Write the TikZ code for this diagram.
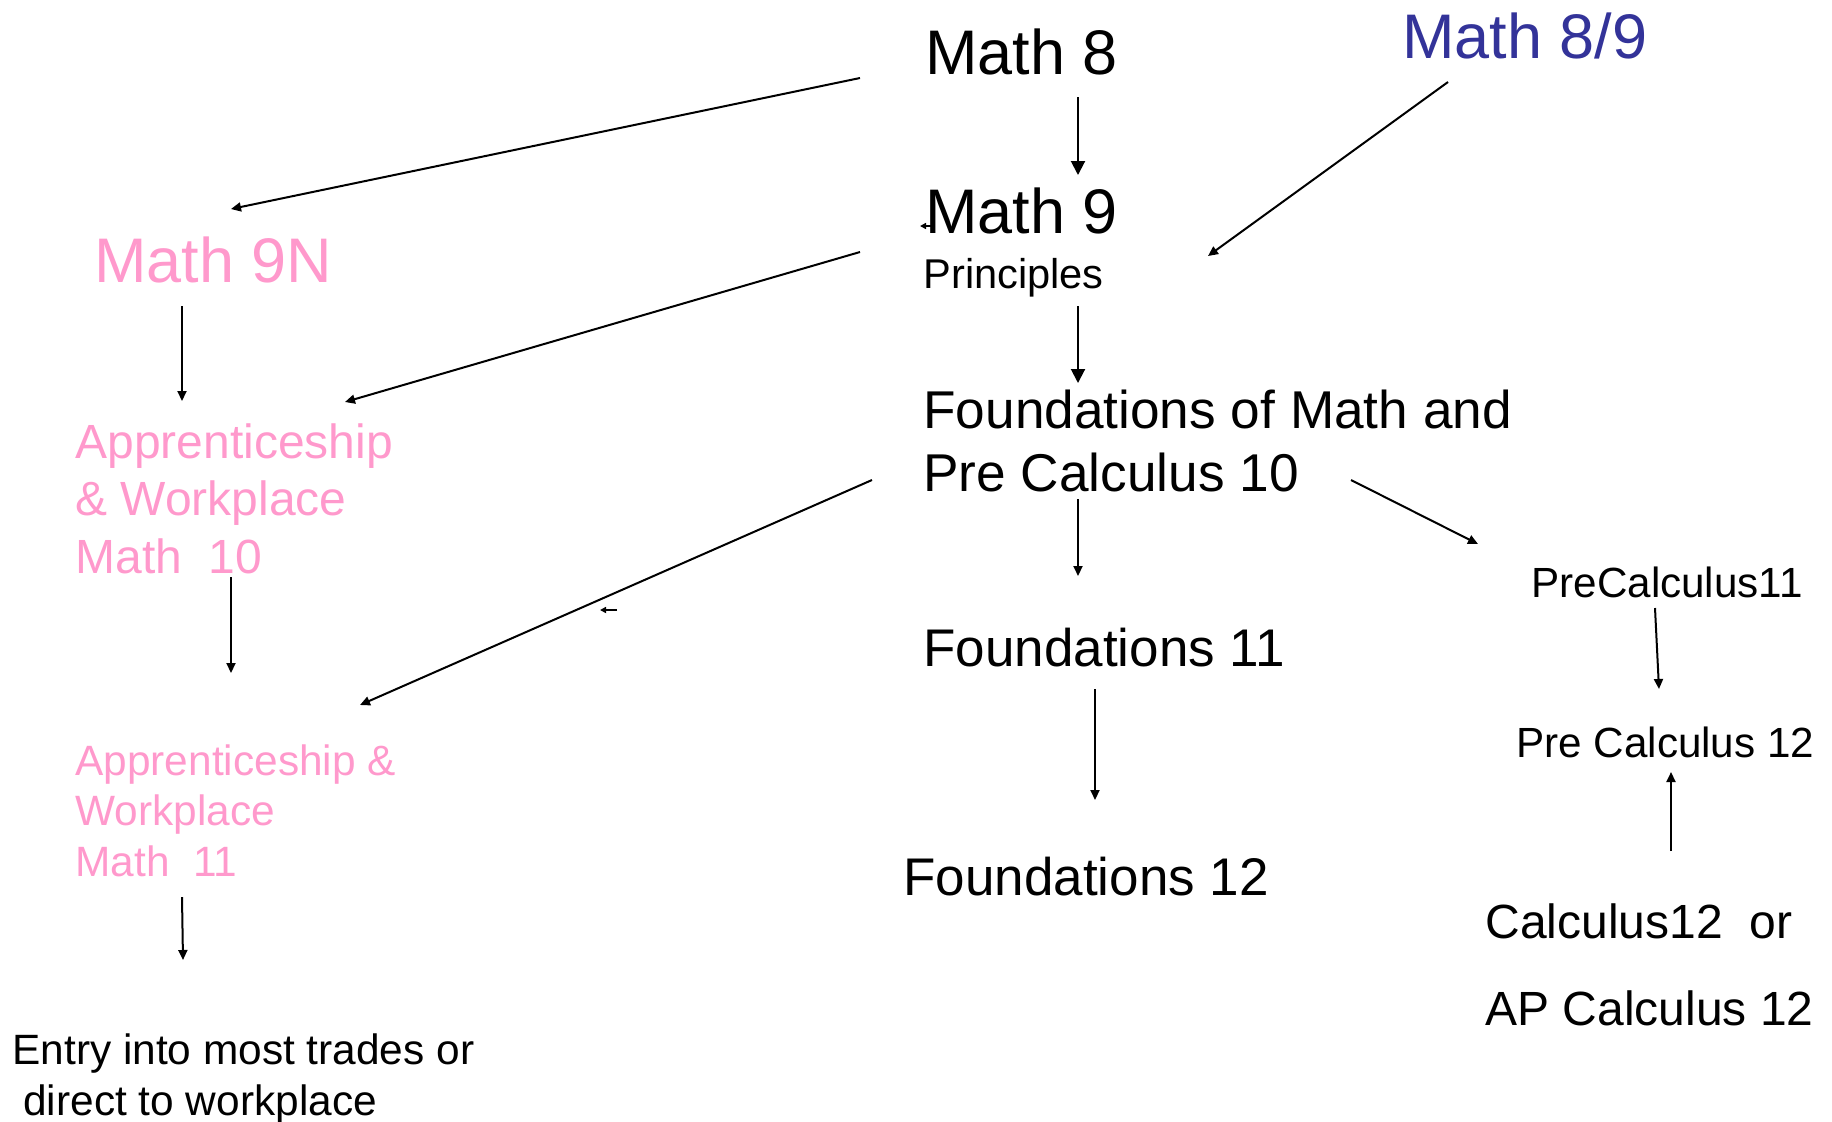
\documentclass[tikz,border=0pt]{standalone}
\usepackage{fontspec}
\setmainfont{Liberation Sans}
\usetikzlibrary{arrows.meta}
\definecolor{trackpink}{RGB}{255,153,204}
\definecolor{trackblue}{RGB}{51,51,153}
\newcommand{\fs}[2]{\fontsize{#1}{#2}\selectfont}
\newcommand{\courselines}[1]{\begin{tabular}[t]{@{}l@{}}#1\end{tabular}}
\tikzset{
  course/.style={inner sep=0pt, anchor=base west, text=black},
  pinkcourse/.style={course, text=trackpink},
  arrow/.style={-{Triangle[length=5pt, width=4.5pt]}, line width=1pt, color=black},
  bigarrow/.style={-{Triangle[length=7pt, width=7pt]}, line width=1pt, color=black},
  tinyarrow/.style={-{Triangle[length=3pt, width=3pt]}, line width=0.8pt, color=black}
}

\begin{document}
\begin{tikzpicture}[x=0.5pt, y=-0.5pt]
  \useasboundingbox (0,0) rectangle (1832,1121);

  % -- Grade 8 / 9 -------------------------------------------------
  \node[course, font=\fs{31.5}{38}] (m8) at (925,74) {Math 8};
  \node[course, font=\fs{31.5}{38}, text=trackblue] (m89) at (1402,58) {Math 8/9};
  \node[course, font=\fs{31.5}{38}] (m9) at (925,233) {Math 9};
  \node[course, font=\fs{20.8}{25}] (princ) at (923,288) {Principles};
  \node[pinkcourse, font=\fs{31.5}{38}] (m9n) at (94,282) {Math 9N};

  % -- Grade 10 ----------------------------------------------------
  \node[course, font=\fs{26.6}{31.5}] (fmp10) at (923,428)
    {\courselines{Foundations of Math and\\Pre Calculus 10}};
  \node[pinkcourse, font=\fs{24}{28.75}] (aw10) at (75,458)
    {\courselines{Apprenticeship\\\& Workplace\\Math\ \ 10}};

  % -- Grade 11 ----------------------------------------------------
  \node[course, font=\fs{26.5}{32}] (f11) at (923,666) {Foundations 11};
  \node[course, font=\fs{21.1}{25}] (pc11) at (1531,597) {PreCalculus11};
  \node[pinkcourse, font=\fs{21.2}{25.3}] (aw11) at (75,775)
    {\courselines{Apprenticeship \&\\Workplace\\Math\ \ 11}};

  % -- Grade 12 ----------------------------------------------------
  \node[course, font=\fs{26.5}{32}] (f12) at (903,895) {Foundations 12};
  \node[course, font=\fs{21.1}{25}] (pc12) at (1516,757) {Pre Calculus 12};
  \node[course, font=\fs{24}{43.5}] (calc) at (1485,938)
    {\courselines{Calculus12\ \ or\\AP Calculus 12}};
  \node[course, font=\fs{21.2}{25.5}] (entry) at (12,1064)
    {\courselines{Entry into most trades or\\\hspace*{0.26em}direct to workplace}};

  % -- stray tips --------------------------------------------------
  \coordinate (stray9) at (934,226);
  \coordinate (stray10) at (617,610);

  % -- Connections -------------------------------------------------
  \draw[arrow] ([shift={(-65,4)}]m8.base west) -- ([shift={(137,-73)}]m9n.base west);
  \draw[bigarrow] ([shift={(153,23)}]m8.base west) -- ([shift={(153,-58)}]m9.base west);
  \draw[arrow] ([shift={(46,24)}]m89.base west) -- ([shift={(283,23)}]m9.base west);
  \draw[arrow] ([shift={(-65,19)}]m9.base west) -- ([shift={(270,-56)}]aw10.base west);
  \draw[bigarrow] ([shift={(155,18)}]princ.base west) -- ([shift={(155,-45)}]fmp10.base west);
  \draw[arrow] ([shift={(-51,52)}]fmp10.base west) -- ([shift={(285,-70)}]aw11.base west);
  \draw[arrow] ([shift={(155,71)}]fmp10.base west) -- ([shift={(155,-90)}]f11.base west);
  \draw[arrow] ([shift={(428,52)}]fmp10.base west) -- ([shift={(-53,-53)}]pc11.base west);
  \draw[arrow] ([shift={(124,11)}]pc11.base west) -- ([shift={(143,-68)}]pc12.base west);
  \draw[arrow] ([shift={(186,-87)}]calc.base west) -- ([shift={(155,15)}]pc12.base west);
  \draw[arrow] ([shift={(172,23)}]f11.base west) -- ([shift={(192,-95)}]f12.base west);
  \draw[arrow] ([shift={(88,24)}]m9n.base west) -- ([shift={(107,-57)}]aw10.base west);
  \draw[arrow] ([shift={(156,119)}]aw10.base west) -- ([shift={(156,-102)}]aw11.base west);
  \draw[arrow] ([shift={(107,122)}]aw11.base west) -- ([shift={(171,-104)}]entry.base west);
  \draw[tinyarrow] (stray9) -- ++(-14,0);
  \draw[tinyarrow] (stray10) -- ++(-17,0);
\end{tikzpicture}
\end{document}
